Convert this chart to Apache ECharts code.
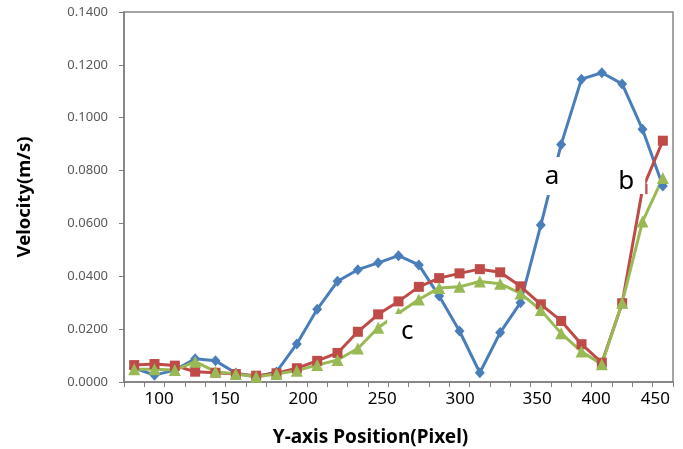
<!DOCTYPE html>
<html>
<head>
<meta charset="utf-8">
<script src="https://cdn.jsdelivr.net/npm/echarts@6/dist/echarts.min.js"></script>
<style>
  html, body { margin: 0; padding: 0; background: #fff; }
  #chart { width: 683px; height: 449px; }
</style>
</head>
<body>
<div id="chart"></div>
<script>
// velocity at each sampled position (27 points, left to right)
const seriesA = [0.0053, 0.0026, 0.0045, 0.0088, 0.0080, 0.0034, 0.0019, 0.0038, 0.0144,
  0.0275, 0.0381, 0.0425, 0.0451, 0.0478, 0.0443, 0.0325, 0.0193, 0.0035, 0.0187,
  0.0300, 0.0594, 0.0899, 0.1146, 0.1170, 0.1128, 0.0956, 0.0742];
const seriesB = [0.0064, 0.0068, 0.0062, 0.0039, 0.0035, 0.0030, 0.0024, 0.0033, 0.0052,
  0.0080, 0.0110, 0.0190, 0.0256, 0.0305, 0.0360, 0.0393, 0.0411, 0.0427, 0.0415,
  0.0362, 0.0294, 0.0231, 0.0143, 0.0073, 0.0298, 0.0730, 0.0913];
const seriesC = [0.0048, 0.0048, 0.0045, 0.0077, 0.0039, 0.0030, 0.0020, 0.0030, 0.0043,
  0.0064, 0.0083, 0.0127, 0.0205, 0.0260, 0.0312, 0.0356, 0.0360, 0.0380, 0.0372,
  0.0335, 0.0272, 0.0184, 0.0115, 0.0067, 0.0300, 0.0607, 0.0772];

// x tick labels and where they sit (in point-index units)
const xTickLabels = ['100', '150', '200', '250', '300', '350', '400', '450'];
const xTickAt = [1.23, 4.48, 8.31, 12.2, 16.03, 19.82, 22.72, 25.63];

(function () {
  const myChart = echarts.init(document.getElementById('chart'));
  const n = seriesA.length;
  const toPairs = (arr) => arr.map((v, i) => [i, v]);

  // tick marks between points, like a category axis
  const boundaries = [];
  for (let i = 0; i <= n; i++) boundaries.push(i - 0.5);

  const font = '"Noto Sans", sans-serif';

  const option = {
    animation: false,
    grid: {
      left: 124,
      right: 10,
      top: 12,
      bottom: 67,
      outerBoundsMode: 'none',
      show: true,
      borderColor: '#868686',
      borderWidth: 1.5,
    },
    xAxis: {
      type: 'value',
      min: -0.5,
      max: n - 0.5,
      name: 'Y-axis Position(Pixel)',
      nameLocation: 'middle',
      nameGap: 46,
      nameTextStyle: {
        fontFamily: font,
        fontWeight: 'bold',
        fontSize: 19,
        color: '#000',
        padding: [0, 56, 0, 0],
      },
      axisLine: { onZero: false, lineStyle: { color: '#7f7f7f', width: 1.5 } },
      axisTick: {
        customValues: boundaries,
        length: 5,
        lineStyle: { color: '#7f7f7f' },
      },
      axisLabel: {
        customValues: xTickAt,
        margin: 9,
        fontFamily: font,
        fontSize: 17,
        color: '#000',
        formatter(v) {
          let best = 0;
          xTickAt.forEach((p, i) => {
            if (Math.abs(p - v) < Math.abs(xTickAt[best] - v)) best = i;
          });
          return xTickLabels[best];
        },
      },
      splitLine: { show: false },
    },
    yAxis: {
      type: 'value',
      min: 0,
      max: 0.14,
      interval: 0.02,
      name: 'Velocity(m/s)',
      nameLocation: 'middle',
      nameGap: 90,
      nameTextStyle: {
        fontFamily: font,
        fontWeight: 'bold',
        fontSize: 18.5,
        color: '#000',
      },
      axisLine: { show: true, onZero: false, lineStyle: { color: '#7f7f7f', width: 1.5 } },
      axisTick: { show: true, length: 5, lineStyle: { color: '#7f7f7f' } },
      axisLabel: {
        fontFamily: font,
        fontSize: 13,
        color: '#595959',
        margin: 16,
        formatter: (v) => v.toFixed(4),
      },
      splitLine: { show: false },
    },
    series: [
      {
        name: 'a',
        type: 'line',
        data: toPairs(seriesA),
        symbol: 'diamond',
        symbolSize: [10, 11],
        lineStyle: { color: '#4a7ebb', width: 3 },
        itemStyle: { color: '#4a7ebb' },
      },
      {
        name: 'b',
        type: 'line',
        data: toPairs(seriesB),
        symbol: 'rect',
        symbolSize: 10,
        lineStyle: { color: '#be4b48', width: 3 },
        itemStyle: { color: '#be4b48' },
      },
      {
        name: 'c',
        type: 'line',
        data: toPairs(seriesC),
        symbol: 'triangle',
        symbolSize: 12,
        lineStyle: { color: '#98b954', width: 3 },
        itemStyle: { color: '#98b954' },
        // curve labels with white boxes, placed in data coordinates
        markPoint: {
          symbol: 'rect',
          itemStyle: { color: '#fff' },
          label: {
            show: true,
            position: 'inside',
            fontFamily: font,
            fontSize: 26,
            color: '#000',
            formatter: (p) => p.name,
          },
          data: [
            { name: 'a', coord: [20.55, 0.0779], symbolSize: [22, 38] },
            { name: 'b', coord: [24.2, 0.0757], symbolSize: [38, 24] },
            { name: 'c', coord: [13.43, 0.0189], symbolSize: [40, 36] },
          ],
        },
      },
    ],
  };

  myChart.setOption(option);

  window.addEventListener('resize', () => {
    myChart.resize();
  });
})();
</script>
</body>
</html>
